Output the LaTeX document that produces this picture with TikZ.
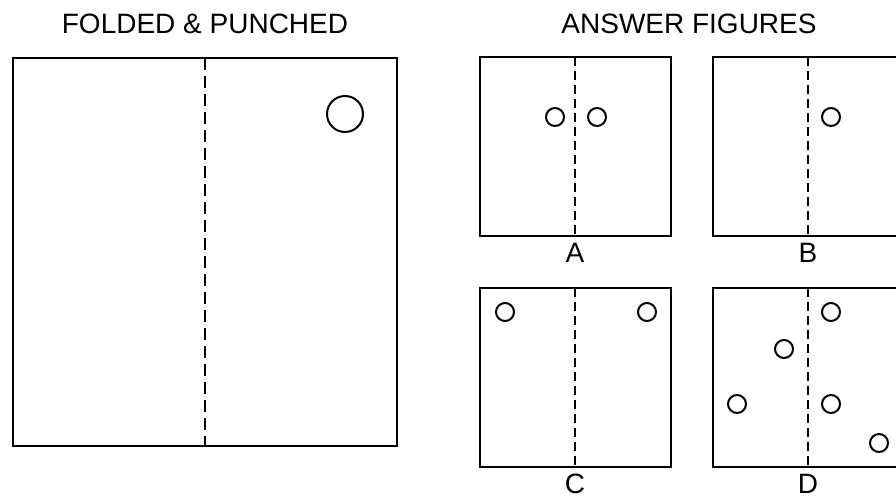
\documentclass[tikz,border=0pt]{standalone}
\usepackage{fontspec}
\setmainfont{Liberation Sans}
\usetikzlibrary{positioning}

\begin{document}
\begin{tikzpicture}[x=1pt,y=-1pt,
  sheet/.style={line width=2.2pt},
  fold/.style={line width=2pt,dash pattern=on 12pt off 6pt},
  foldsmall/.style={line width=1.6pt,dash pattern=on 9pt off 5pt},
  hole/.style={line width=2pt},
  lbl/.style={font=\fontsize{28}{30}\selectfont,inner sep=0pt}]
\clip (0,0) rectangle (896,499);
% headings
\node[lbl] (folded) at (205,24) {FOLDED \& PUNCHED};
\node[lbl] (answers) at (689,24) {ANSWER FIGURES};
% folded sheet
\draw[sheet] (13,58) rectangle (397,446);
\draw[fold] (205,58) -- (205,446);
\draw[hole] (345,114) circle (18);
% answer sheets
\foreach \x/\y/\l in {480/57/A,713/57/B,480/288/C,713/288/D} {
  \draw[sheet] (\x,\y) rectangle ++(191,179);
  \draw[foldsmall] (\x+95,\y) -- ++(0,179);
  \node[lbl] (opt\l) at (\x+95,\y+196) {\l};
}
% punched holes
\foreach \x/\y in {555/117,597/117,831/117,505/312,647/312,
                   831/312,784/349,737/404,831/404,879/443} {
  \draw[hole] (\x,\y) circle (9);
}
\end{tikzpicture}
\end{document}
